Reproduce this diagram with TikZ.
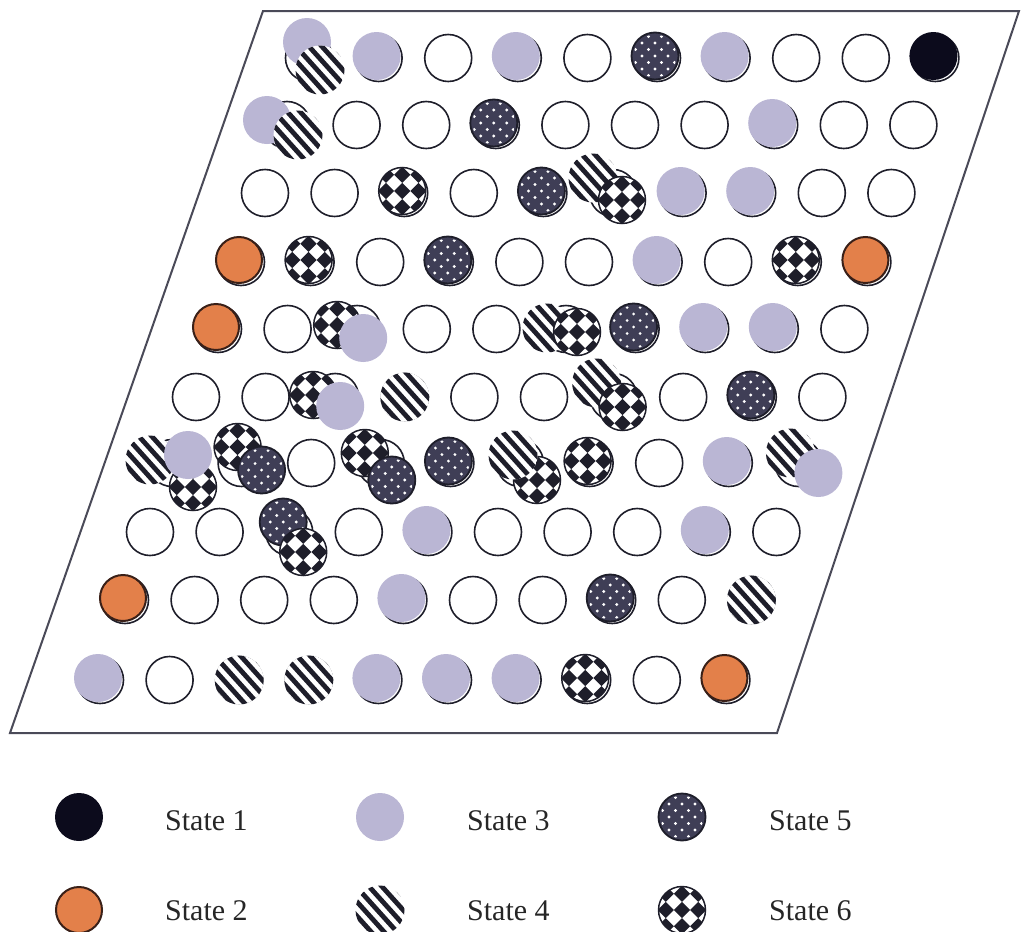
\documentclass[tikz,border=0pt]{standalone}
\usepackage{fontspec}
\setmainfont{Liberation Serif}
\usetikzlibrary{calc}
\definecolor{ink}{HTML}{1E1E2A}
\definecolor{lav}{HTML}{BAB6D4}
\definecolor{org}{HTML}{E3804A}
\definecolor{orgline}{HTML}{3A2018}
\definecolor{blk}{HTML}{0C0B1C}
\definecolor{dk}{HTML}{3F3E56}
\definecolor{framec}{HTML}{4A4A58}
\definecolor{txt}{HTML}{262626}
% base outline of a cell
\newcommand\bOut[1]{\draw[line width=1.6, draw=ink, fill=white] (#1) circle (23.5);}
% state 1: black
\newcommand\sA[3]{\fill[blk] ($(#1)+(#2,#3)$) circle (24);}
% state 2: orange
\newcommand\sB[3]{\draw[line width=2, draw=orgline, fill=org] ($(#1)+(#2,#3)$) circle (23);}
% state 3: lavender
\newcommand\sC[3]{\fill[lav] ($(#1)+(#2,#3)$) circle (24);}
% state 4: stripes
\newcommand\sD[3]{\begin{scope}[shift={($(#1)+(#2,#3)$)}]\clip (0,0) circle (24.5);\fill[white] (0,0) circle (25);\begin{scope}[rotate=-48]\foreach \k in {-3,...,3}{\draw[line width=4.8, draw=ink] (-30,\k*9.6+2) -- (30,\k*9.6+2);}\end{scope}\end{scope}}
% state 5: dark dotted
\newcommand\sE[3]{\begin{scope}[shift={($(#1)+(#2,#3)$)}]\fill[dk] (0,0) circle (23.5);\begin{scope}\clip (0,0) circle (21.5);\foreach \m in {-3,...,3}{\foreach \n in {-3,...,3}{\fill[white] ({\m*13+mod(abs(\n),2)*6.5},{\n*6.5}) circle (1.6);}}\end{scope}\draw[line width=1.8, draw=ink] (0,0) circle (23.5);\end{scope}}
% state 6: diamond checker
\newcommand\sF[3]{\begin{scope}[shift={($(#1)+(#2,#3)$)}]\begin{scope}\clip (0,0) circle (23.5);\fill[white] (0,0) circle (24);\begin{scope}[rotate=45]\foreach \m in {-2,...,2}{\foreach \n in {-2,...,2}{\fill[ink] ({2*\m*11.5-5.75},{2*\n*11.5-5.75}) rectangle ++(11.5,11.5);\fill[ink] ({(2*\m+1)*11.5-5.75},{(2*\n+1)*11.5-5.75}) rectangle ++(11.5,11.5);}}\end{scope}\end{scope}\draw[line width=1.5, draw=ink] (0,0) circle (23.5);\end{scope}}
\tikzset{lbl/.style={anchor=base west, font=\fontsize{30}{36}\selectfont, text=txt, inner sep=0pt}}
\begin{document}
\begin{tikzpicture}[x=1pt,y=-1pt]
\useasboundingbox (0,0) rectangle (1021,932);
\fill[white] (0,0) rectangle (1021,932);
% frame
\draw[line width=2, draw=framec] (263,11) -- (1019,11) -- (777,733) -- (10,733) -- cycle;
% grid of cells
\foreach \r/\yy/\xx in {1/58/309,2/125/287,3/193/265,4/262/241,5/329/218,6/397/196,7/463/172,8/532/150,9/600/125,10/680/100}{
  \foreach \c in {1,...,10}{
    \coordinate (p\r-\c) at ({\xx+(\c-1)*69.6},\yy);
    \bOut{p\r-\c}
  }}
% row 1
\sC{p1-1}{-2}{-16}\sD{p1-1}{11}{12}
\sC{p1-2}{-2}{-2}\sC{p1-4}{-2}{-2}\sE{p1-6}{-2}{-2}\sC{p1-7}{-2}{-2}\sA{p1-10}{-2}{-2}
% row 2
\sC{p2-1}{-20}{-5}\sD{p2-1}{11}{10}
\sE{p2-4}{-2}{-2}\sC{p2-8}{-2}{-2}
% row 3
\sF{p3-3}{-2}{-2}\sE{p3-5}{-2}{-2}
\sD{p3-6}{-20}{-15}\sF{p3-6}{9}{7}
\sC{p3-7}{-2}{-2}\sC{p3-8}{-2}{-2}
% row 4
\sB{p4-1}{-2}{-2}\sF{p4-2}{-2}{-2}\sE{p4-4}{-2}{-2}\sC{p4-7}{-2}{-2}\sF{p4-9}{-2}{-2}\sB{p4-10}{-2}{-2}
% row 5
\sB{p5-1}{-2}{-2}
\sF{p5-3}{-20}{-4}\sC{p5-3}{6}{9}
\sD{p5-6}{-19}{-1}\sF{p5-6}{11}{3}
\sE{p5-7}{-2}{-2}\sC{p5-8}{-2}{-2}\sC{p5-9}{-2}{-2}
% row 6
\sF{p6-3}{-22}{-2}\sC{p6-3}{5}{9}
\sD{p6-4}{0}{0}
\sD{p6-7}{-17}{-14}\sF{p6-7}{9}{10}
\sE{p6-9}{-2}{-2}
% row 7
\sD{p7-1}{-22}{-3}\sF{p7-1}{21}{24}\sC{p7-1}{16}{-8}
\sF{p7-2}{-4}{-16}\sE{p7-2}{20}{7}
\sF{p7-4}{-16}{-10}\sE{p7-4}{11}{17}
\sE{p7-5}{-2}{-2}
\sF{p7-6}{17}{17}\sD{p7-6}{-7}{-8}
\sF{p7-7}{-2}{-2}\sC{p7-9}{-2}{-2}
\sD{p7-10}{-8}{-10}\sC{p7-10}{20}{10}
% row 8
\sE{p8-3}{-6}{-10}\sF{p8-3}{14}{20}
\sC{p8-5}{-2}{-2}\sC{p8-9}{-2}{-2}
% row 9
\sB{p9-1}{-2}{-2}\sC{p9-5}{-2}{-2}\sE{p9-8}{-2}{-2}\sD{p9-10}{0}{0}
% row 10
\sC{p10-1}{-2}{-2}\sD{p10-3}{0}{0}\sD{p10-4}{0}{0}\sC{p10-5}{-2}{-2}\sC{p10-6}{-2}{-2}\sC{p10-7}{-2}{-2}\sF{p10-8}{-2}{-2}\sB{p10-10}{-2}{-2}
% legend
\coordinate (l1) at (79,817);
\coordinate (l2) at (79,910);
\coordinate (l3) at (380,817);
\coordinate (l4) at (380,910);
\coordinate (l5) at (682,817);
\coordinate (l6) at (682,910);
\sA{l1}{0}{0}\sB{l2}{0}{0}\sC{l3}{0}{0}\sD{l4}{0}{0}\sE{l5}{0}{0}\sF{l6}{0}{0}
\node[lbl] (t1) at (165,830) {State 1};
\node[lbl] (t2) at (165,920) {State 2};
\node[lbl] (t3) at (467,830) {State 3};
\node[lbl] (t4) at (467,920) {State 4};
\node[lbl] (t5) at (769,830) {State 5};
\node[lbl] (t6) at (769,920) {State 6};
\end{tikzpicture}
\end{document}
